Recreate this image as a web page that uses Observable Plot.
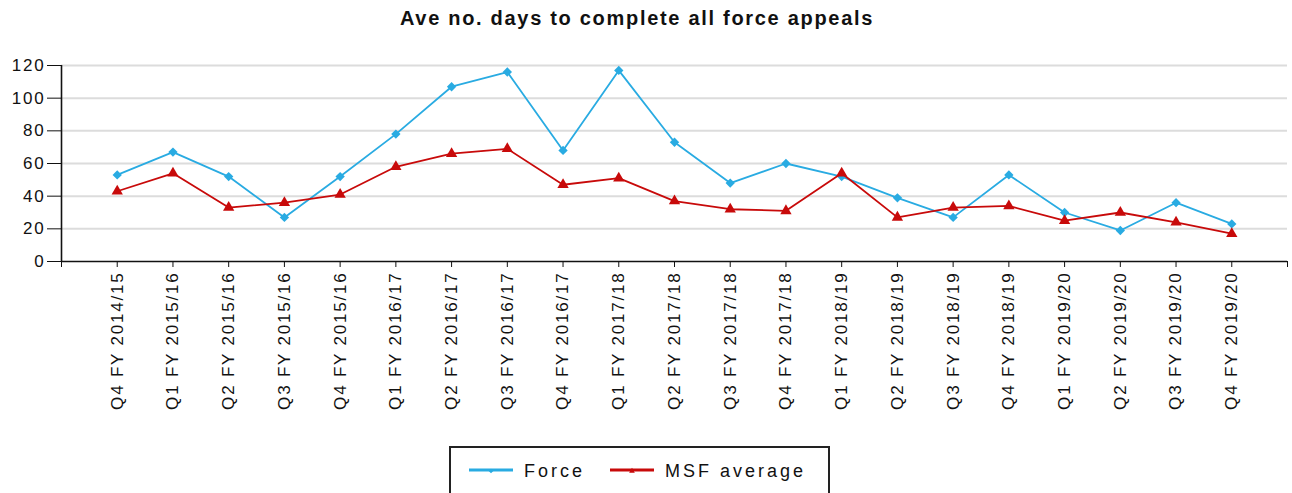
<!DOCTYPE html>
<html>
<head>
<meta charset="utf-8">
<script src="https://cdn.jsdelivr.net/npm/d3@7"></script>
<script src="https://cdn.jsdelivr.net/npm/@observablehq/plot@0.6"></script>
<style>
  html, body { margin: 0; padding: 0; background: #fff; }
  body { width: 1292px; height: 493px; position: relative; overflow: hidden; font-family: "Liberation Sans", Arial, sans-serif; }
  #title { position: absolute; top: 4px; left: 0; width: 1274px; text-align: center; font: bold 20px "Liberation Sans", Arial, sans-serif; letter-spacing: 1.7px; line-height: 28px; color: #111; }
  #chart { position: absolute; top: 0; left: 0; }
  #legend { position: absolute; left: 449px; top: 446px; width: 377px; height: 60px; border: 2px solid #222; box-sizing: content-box; }
</style>
</head>
<body>
<div id="title">Ave no. days to complete all force appeals</div>
<div id="chart"></div>
<div id="legend"></div>
<script>
const quarters = [
  "Q4 FY 2014/15", "Q1 FY 2015/16", "Q2 FY 2015/16", "Q3 FY 2015/16", "Q4 FY 2015/16",
  "Q1 FY 2016/17", "Q2 FY 2016/17", "Q3 FY 2016/17", "Q4 FY 2016/17",
  "Q1 FY 2017/18", "Q2 FY 2017/18", "Q3 FY 2017/18", "Q4 FY 2017/18",
  "Q1 FY 2018/19", "Q2 FY 2018/19", "Q3 FY 2018/19", "Q4 FY 2018/19",
  "Q1 FY 2019/20", "Q2 FY 2019/20", "Q3 FY 2019/20", "Q4 FY 2019/20"
];
const force = [53, 67, 52, 27, 52, 78, 107, 116, 68, 117, 73, 48, 60, 52, 39, 27, 53, 30, 19, 36, 23];
const msf   = [43, 54, 33, 36, 41, 58, 66, 69, 47, 51, 37, 32, 31, 54, 27, 33, 34, 25, 30, 24, 17];
const yTicks = [0, 20, 40, 60, 80, 100, 120];
const seriesNames = ["Force", "MSF average"];

const blue = "#29abe2";
const red = "#c80a0a";

const rows = quarters.map((q, i) => ({i, q, force: force[i], msf: msf[i]}));

const plot = Plot.plot({
  width: 1292,
  height: 440,
  marginTop: 65,
  marginBottom: 179,
  marginLeft: 61,
  marginRight: 5,
  style: {fontFamily: "Liberation Sans, Arial, sans-serif", color: "#111", background: "transparent"},
  x: {type: "linear", domain: [-1, quarters.length], label: null},
  y: {domain: [0, 120], label: null},
  marks: [
    Plot.gridY(yTicks.filter(d => d > 0), {stroke: "#dcdcdc", strokeOpacity: 1, strokeWidth: 2}),
    Plot.axisY(yTicks, {tickSize: 14, tickPadding: 2, fontSize: 17, label: null, className: "yax"}),
    Plot.axisX(d3.range(-1, quarters.length + 1), {
      tickRotate: -90, tickSize: 6, tickPadding: 4, fontSize: 17, label: null, className: "xax",
      tickFormat: i => quarters[i] ?? ""
    }),
    Plot.ruleX([-1], {stroke: "#111", strokeWidth: 1.6}),
    Plot.ruleY([0], {stroke: "#111", strokeWidth: 1.6}),
    Plot.lineY(rows, {x: "i", y: "force", stroke: blue, strokeWidth: 1.8}),
    Plot.dot(rows, {x: "i", y: "force", symbol: "diamond2", fill: blue, r: 4.2}),
    Plot.lineY(rows, {x: "i", y: "msf", stroke: red, strokeWidth: 1.8}),
    Plot.dot(rows, {x: "i", y: "msf", symbol: "triangle", fill: red, r: 4.2})
  ]
});
document.getElementById("chart").appendChild(plot);

// letter spacing for tick labels
d3.select(plot).selectAll("g[aria-label='y-axis tick label'] text").style("letter-spacing", "1.8px");
d3.select(plot).selectAll("g[aria-label='x-axis tick label'] text").style("letter-spacing", "1.8px");

// Legend
const lg = d3.select("#legend").append("svg").attr("width", 377).attr("height", 60)
  .style("font-family", "Liberation Sans, Arial, sans-serif");
const items = [
  {name: seriesNames[0], color: blue, x: 18, tx: 73, sym: d3.symbolDiamond2},
  {name: seriesNames[1], color: red, x: 159, tx: 214, sym: d3.symbolTriangle}
];
items.forEach(it => {
  lg.append("line").attr("x1", it.x).attr("x2", it.x + 44).attr("y1", 22).attr("y2", 22)
    .attr("stroke", it.color).attr("stroke-width", 3);
  lg.append("path").attr("d", d3.symbol(it.sym, 14)()).attr("transform", `translate(${it.x + 22},23)`)
    .attr("fill", it.color);
  lg.append("text").attr("x", it.tx).attr("y", 28.5).attr("font-size", 18).attr("fill", "#111")
    .style("letter-spacing", "3px").text(it.name);
});
</script>
</body>
</html>
